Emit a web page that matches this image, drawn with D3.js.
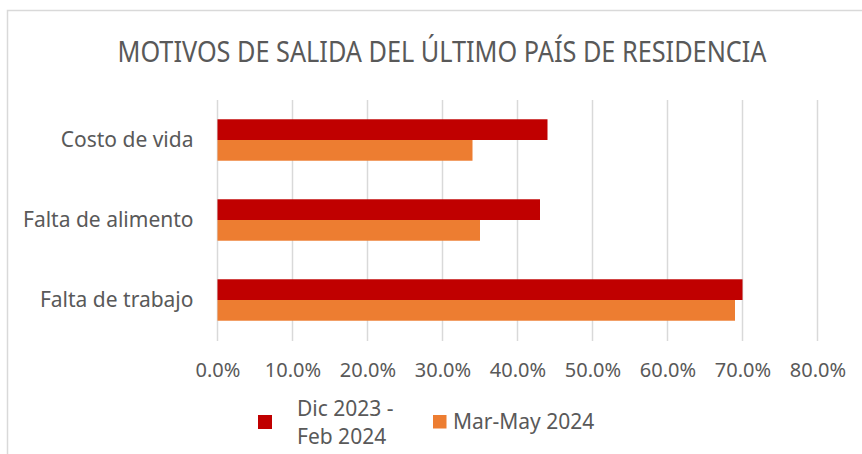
<!DOCTYPE html>
<html>
<head>
<meta charset="utf-8">
<script src="https://cdn.jsdelivr.net/npm/d3@7"></script>
<style>
  body { margin: 0; background: #fff; }
  svg { display: block; font-family: "Noto Sans", "Open Sans", sans-serif; }
</style>
</head>
<body>
<div id="chart"></div>
<script>
// Datos
const categories = ["Costo de vida", "Falta de alimento", "Falta de trabajo"];
const seriesNames = ["Dic 2023 - Feb 2024", "Mar-May 2024"];
const dicFeb = [0.44, 0.43, 0.70];
const marMay = [0.34, 0.35, 0.69];
const xTicks = [0, 0.1, 0.2, 0.3, 0.4, 0.5, 0.6, 0.7, 0.8];
const colors = ["#C00000", "#ED7D31"];

const width = 862;
const height = 454;
const margin = { top: 100, right: 45, bottom: 114, left: 217.5 };

const svg = d3.select("#chart")
    .append("svg")
    .attr("width", width)
    .attr("height", height);

// borde del área del gráfico
svg.append("rect")
    .attr("x", 7.5)
    .attr("y", 10.5)
    .attr("width", 900)
    .attr("height", 500)
    .attr("fill", "none")
    .attr("stroke", "#d9d9d9")
    .attr("stroke-width", 1.5);

// Título
svg.append("text")
    .attr("x", 442)
    .attr("y", 62)
    .attr("text-anchor", "middle")
    .attr("font-size", 29)
    .attr("fill", "#595959")
    .attr("textLength", 649)
    .attr("lengthAdjust", "spacingAndGlyphs")
    .text("MOTIVOS DE SALIDA DEL ÚLTIMO PAÍS DE RESIDENCIA");

// Escalas
const x = d3.scaleLinear()
    .domain([0, 0.8])
    .range([margin.left, margin.left + 600]);

const y = d3.scaleBand()
    .domain(categories)
    .range([margin.top, height - margin.bottom])
    .padding(0);

const ySeries = d3.scaleBand()
    .domain(seriesNames)
    .range([0, y.bandwidth()])
    .paddingInner(0)
    .paddingOuter(0.93);

// Líneas de cuadrícula
svg.append("g")
    .selectAll("line")
    .data(xTicks)
    .enter().append("line")
    .attr("x1", d => x(d))
    .attr("x2", d => x(d))
    .attr("y1", margin.top)
    .attr("y2", height - margin.bottom + 1)
    .attr("stroke", "#d9d9d9")
    .attr("stroke-width", 1.5);

// Barras
const rows = categories.map((c, i) => ({ cat: c, values: [dicFeb[i], marMay[i]] }));

const group = svg.append("g")
    .selectAll("g")
    .data(rows)
    .enter().append("g")
    .attr("transform", d => `translate(0,${y(d.cat)})`);

group.selectAll("rect")
    .data(d => d.values.map((v, j) => ({ name: seriesNames[j], value: v, j })))
    .enter().append("rect")
    .attr("x", x(0))
    .attr("y", d => ySeries(d.name))
    .attr("width", d => x(d.value) - x(0))
    .attr("height", ySeries.bandwidth())
    .attr("fill", d => colors[d.j]);

// Eje X
const xAxis = svg.append("g")
    .attr("transform", `translate(0,${height - margin.bottom})`)
    .call(d3.axisBottom(x).tickValues(xTicks).tickFormat(d3.format(".1%")).tickSize(0).tickPadding(22.5));
xAxis.select(".domain").remove();
xAxis.selectAll("text")
    .attr("font-size", 20)
    .attr("font-family", "Noto Sans, sans-serif")
    .attr("fill", "#595959");

// Eje Y
const yAxis = svg.append("g")
    .attr("transform", `translate(${margin.left},0)`)
    .call(d3.axisLeft(y).tickSize(0).tickPadding(24));
yAxis.select(".domain").remove();
yAxis.selectAll("text")
    .attr("font-size", 21)
    .attr("font-family", "Noto Sans, sans-serif")
    .attr("fill", "#595959");

// Leyenda
const legend = svg.append("g");

legend.append("rect")
    .attr("x", 258).attr("y", 415)
    .attr("width", 14).attr("height", 14)
    .attr("fill", colors[0]);

const l1 = legend.append("text")
    .attr("x", 297)
    .attr("y", 416)
    .attr("font-size", 21)
    .attr("fill", "#595959");
l1.append("tspan").attr("x", 297).text("Dic 2023 -");
l1.append("tspan").attr("x", 297).attr("dy", 28).text("Feb 2024");

legend.append("rect")
    .attr("x", 433).attr("y", 415)
    .attr("width", 13.5).attr("height", 13.5)
    .attr("fill", colors[1]);

legend.append("text")
    .attr("x", 453)
    .attr("y", 429)
    .attr("font-size", 21)
    .attr("fill", "#595959")
    .text(seriesNames[1]);
</script>
</body>
</html>
